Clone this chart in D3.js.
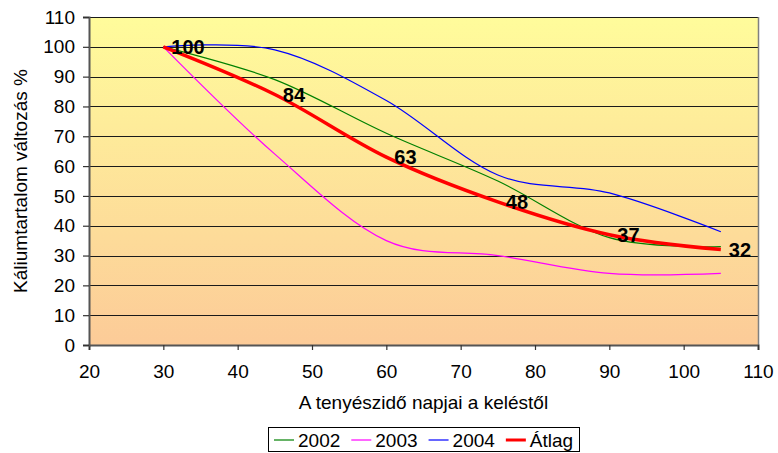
<!DOCTYPE html>
<html><head><meta charset="utf-8">
<script src="https://cdn.jsdelivr.net/npm/d3@7"></script>
<style>
body{margin:0;background:#fff;}
text{font-family:Arial,"Liberation Sans",sans-serif;fill:#000;}
</style>
</head><body>
<svg id="c" width="778" height="453"></svg>
<script>
// ---- data ----
const days = [30, 45, 60, 75, 90, 105];
const y2002 = [100, 89, 71, 55, 36, 33];
const y2003 = [100, 64, 35, 30, 24, 24];
const y2004 = [100, 99, 82, 57, 51, 38];
const atlag = [100, 84, 63, 48, 37, 32];
const seriesNames = ["2002", "2003", "2004", "Átlag"];
const xTicks = [20, 30, 40, 50, 60, 70, 80, 90, 100, 110];
const yTicks = [0, 10, 20, 30, 40, 50, 60, 70, 80, 90, 100, 110];
const xTitle = "A tenyészidő napjai a keléstől";
const yTitle = "Káliumtartalom változás %";

// ---- layout ----
const FS = 19;
const svg = d3.select("#c");
const L = 89, R = 758, T = 17, B = 345;
const x = d3.scaleLinear().domain([20, 110]).range([L, R]);
const y = d3.scaleLinear().domain([0, 110]).range([B, T]);

const defs = svg.append("defs");
const grad = defs.append("linearGradient").attr("id", "bg")
  .attr("x1", 0).attr("y1", 0).attr("x2", 0).attr("y2", 1);
grad.append("stop").attr("offset", "0%").attr("stop-color", "#FFFC9B");
grad.append("stop").attr("offset", "100%").attr("stop-color", "#FCCB98");

svg.append("rect").attr("x", L).attr("y", T).attr("width", R - L).attr("height", B - T)
  .attr("fill", "url(#bg)");

// gridlines
svg.append("g").selectAll("line").data(yTicks.filter(d => d > 0)).join("line")
  .attr("x1", L).attr("x2", R)
  .attr("y1", d => Math.round(y(d)) + 0.5).attr("y2", d => Math.round(y(d)) + 0.5)
  .attr("stroke", "#1a1a1a").attr("stroke-width", 1);

// right border
svg.append("line").attr("x1", R + 0.5).attr("x2", R + 0.5).attr("y1", T).attr("y2", B)
  .attr("stroke", "#808080").attr("stroke-width", 1.5);

// axes
const xAxis = svg.append("g").attr("transform", `translate(0,${B})`)
  .call(d3.axisBottom(x).tickValues(xTicks).tickSize(5).tickPadding(15).tickFormat(d3.format("d")));
const yAxis = svg.append("g").attr("transform", `translate(${L},0)`)
  .call(d3.axisLeft(y).tickValues(yTicks).tickSize(6).tickPadding(8).tickFormat(d3.format("d")));
[xAxis, yAxis].forEach(g => {
  g.select(".domain").attr("stroke", "#555").attr("stroke-width", 2);
  g.selectAll(".tick line").attr("stroke", "#333").attr("stroke-width", 1.2);
  g.selectAll(".tick text").attr("font-size", FS).attr("font-family", "Arial, 'Liberation Sans', sans-serif").attr("fill", "#000");
});

// titles
svg.append("text").attr("x", (L + R) / 2).attr("y", 409).attr("text-anchor", "middle")
  .attr("font-size", FS).text(xTitle);
svg.append("text").attr("transform", `translate(27,${(T + B) / 2}) rotate(-90)`)
  .attr("text-anchor", "middle").attr("font-size", FS).text(yTitle);

// lines
const series = [
  {name: seriesNames[0], values: y2002, color: "#008000", w: 1.2},
  {name: seriesNames[1], values: y2003, color: "#FF00FF", w: 1.2},
  {name: seriesNames[2], values: y2004, color: "#0000FF", w: 1.2},
  {name: seriesNames[3], values: atlag, color: "#FF0000", w: 3.5}
];
const line = d3.line().x((d, i) => x(days[i])).y(d => y(d)).curve(d3.curveCardinal.tension(0));
svg.append("g").selectAll("path").data(series).join("path")
  .attr("d", s => line(s.values)).attr("fill", "none")
  .attr("stroke", s => s.color).attr("stroke-width", s => s.w)
  .attr("stroke-linejoin", "round").attr("stroke-linecap", "butt");

// data labels for average
svg.append("g").selectAll("text").data(atlag).join("text")
  .attr("x", (d, i) => x(days[i]) + 8).attr("y", d => y(d))
  .attr("dy", "0.36em").attr("font-size", 20).attr("font-weight", "bold")
  .text(d => d);

// legend
const leg = svg.append("g");
const legY = 440;
const items = [];
series.forEach(s => {
  const g = leg.append("g");
  g.append("line").attr("x1", 0).attr("x2", 20).attr("y1", 0).attr("y2", 0)
    .attr("stroke", s.color).attr("stroke-width", s.w === 3.5 ? 3 : 2).attr("stroke-opacity", s.w === 3.5 ? 1 : 0.6);
  const t = g.append("text").attr("x", 24).attr("y", 0).attr("dy", "0.35em")
    .attr("font-size", FS).text(s.name);
  const w = 24 + t.node().getComputedTextLength();
  items.push({g, w});
});
const gap = 11;
const total = items.reduce((a, b) => a + b.w, 0) + gap * (items.length - 1);
const pad = 6;
const boxW = Math.round(total + 2 * pad);
const boxX = Math.round((L + R) / 2 - boxW / 2);
leg.insert("rect", ":first-child").attr("x", boxX + 0.5).attr("y", 427.5)
  .attr("width", boxW).attr("height", 24).attr("fill", "#fff").attr("stroke", "#000").attr("stroke-width", 1);
let cx = boxX + pad;
items.forEach(it => {
  it.g.attr("transform", `translate(${cx},${legY})`);
  cx += it.w + gap;
});
</script>
</body></html>
